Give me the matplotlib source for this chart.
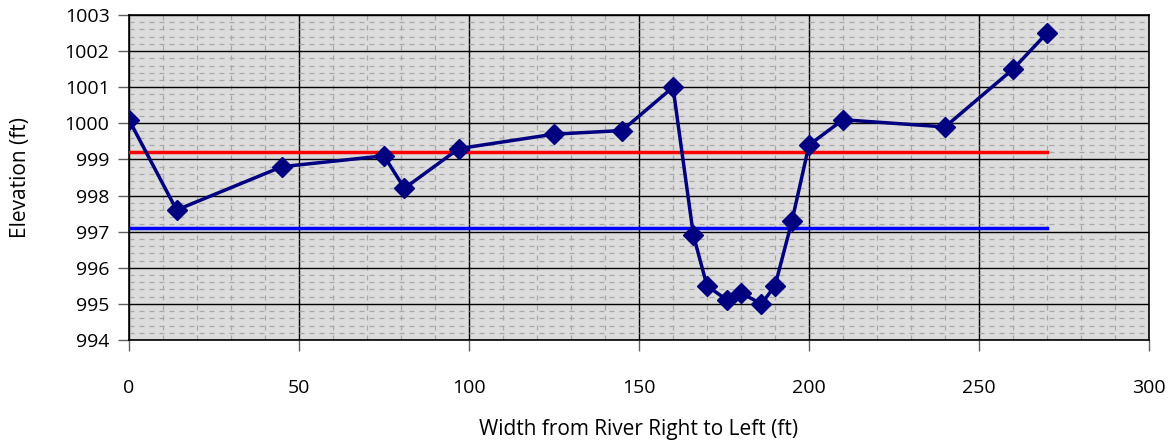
import matplotlib.pyplot as plt
from matplotlib.ticker import MultipleLocator

# cross section survey points
width_ft = [0, 14, 45, 75, 81, 97, 125, 145, 160, 166, 170, 176, 180, 186, 190, 195, 200, 210, 240, 260, 270]
elev_ft = [1000.1, 997.6, 998.8, 999.1, 998.2, 999.3, 999.7, 999.8, 1001.0, 996.9, 995.5, 995.1, 995.3,
           995.0, 995.5, 997.3, 999.4, 1000.1, 999.9, 1001.5, 1002.5]

# horizontal reference levels
red_x = [0, 270]
red_y = [999.2, 999.2]
blue_x = [0, 270]
blue_y = [997.1, 997.1]

plt.rcParams['font.family'] = ['Open Sans', 'DejaVu Sans']

fig = plt.figure(figsize=(11.76, 4.45), dpi=100)
ax = fig.add_axes([129 / 1176, 1 - 340 / 445, (1149 - 129) / 1176, (340 - 15) / 445])
ax.set_facecolor('#dcdcdc')

ax.set_xlim(0, 300)
ax.set_ylim(994, 1003)
ax.xaxis.set_major_locator(MultipleLocator(50))
ax.xaxis.set_minor_locator(MultipleLocator(10))
ax.yaxis.set_major_locator(MultipleLocator(1))
ax.yaxis.set_minor_locator(MultipleLocator(0.2))

# grid: solid major, dashed minor
ax.grid(which='minor', color='#a8a8a8', linestyle=(0, (4, 4)), linewidth=0.9)
ax.grid(which='major', color='black', linestyle='-', linewidth=1.0)
ax.set_axisbelow(True)

ax.plot(red_x, red_y, color='#ff0000', linewidth=2.5, zorder=3)
ax.plot(blue_x, blue_y, color='#0000ff', linewidth=2.5, zorder=3)
ax.plot(width_ft, elev_ft, color='#000080', linewidth=2.5, marker='D', markersize=10, zorder=4)

for s in ax.spines.values():
    s.set_color('black')
    s.set_linewidth(1.2)

ax.tick_params(which='major', direction='out', length=8, width=1, color='#606060', labelsize=14)
ax.tick_params(which='minor', length=0)
ax.tick_params(axis='x', pad=20)
ax.tick_params(axis='y', pad=6)

ax.set_xlabel('Width from River Right to Left (ft)', fontsize=15, labelpad=16)
ax.set_ylabel('Elevation (ft)', fontsize=15, labelpad=24)

fig.savefig('out.png', dpi=100)
